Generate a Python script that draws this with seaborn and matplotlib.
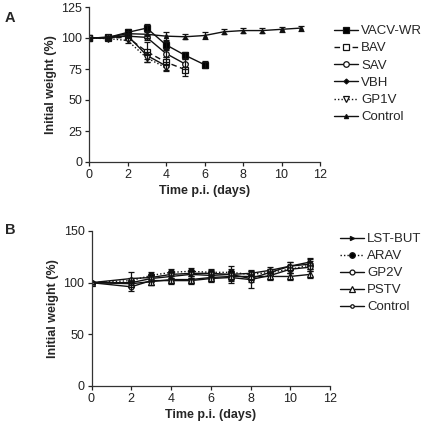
import matplotlib
matplotlib.use("Agg")
import matplotlib.pyplot as plt
import seaborn as sns
import pandas as pd
import numpy as np

# ---------------- Panel A data ----------------
a_names = ["VACV-WR", "BAV", "SAV", "VBH", "GP1V", "Control"]
a_days = {
    "VACV-WR": [0, 1, 2, 3, 4, 5, 6],
    "BAV": [0, 1, 2, 3, 4, 5],
    "SAV": [0, 1, 2, 3, 4, 5],
    "VBH": [0, 1, 2, 3, 4],
    "GP1V": [0, 1, 2, 3, 4],
    "Control": [0, 1, 2, 3, 4, 5, 6, 7, 8, 9, 10, 11],
}
a_vals = {
    "VACV-WR": [100, 100.5, 104.5, 108, 94.5, 86, 78.5],
    "BAV": [100, 100, 100.5, 89, 80.5, 74.5],
    "SAV": [100, 100.5, 101.5, 100.5, 87.5, 79],
    "VBH": [100, 100, 102, 86, 77.5],
    "GP1V": [100, 99.5, 98, 84, 76],
    "Control": [100, 100.5, 103.5, 103, 101.5, 101, 102, 105, 106, 106, 107, 108],
}
a_err = {
    "VACV-WR": [1, 1, 3, 3, 3, 3, 3],
    "BAV": [1, 1, 2, 8, 4, 5],
    "SAV": [1, 1, 2, 2, 3, 4],
    "VBH": [1, 1, 2, 3, 3],
    "GP1V": [1, 1, 2, 3, 3],
    "Control": [1, 1, 2, 3, 3, 2, 3, 2, 2, 2, 2, 2],
}

# ---------------- Panel B data ----------------
b_names = ["LST-BUT", "ARAV", "GP2V", "PSTV", "Control"]
b_days = [0, 2, 3, 4, 5, 6, 7, 8, 9, 10, 11]
b_vals = {
    "LST-BUT": [100, 100, 104, 106, 108, 107, 108, 104, 110, 116, 120],
    "ARAV": [100, 102, 107, 110, 111, 110, 110, 108, 110, 113, 117],
    "GP2V": [100, 96, 102, 102, 102, 104, 105, 103, 107, 113, 115],
    "PSTV": [100, 99, 101, 103, 103, 105, 106, 106, 106, 106, 108],
    "Control": [100, 104, 105, 108, 109, 109, 108, 109, 112, 116, 118],
}
b_err = {
    "LST-BUT": [1, 3, 3, 3, 3, 3, 3, 3, 3, 4, 4],
    "ARAV": [1, 3, 3, 3, 3, 3, 3, 3, 3, 4, 4],
    "GP2V": [1, 4, 4, 3, 3, 3, 3, 8, 3, 4, 4],
    "PSTV": [1, 3, 3, 3, 3, 3, 3, 3, 3, 3, 3],
    "Control": [1, 6, 3, 3, 3, 3, 8, 3, 3, 4, 5],
}

a_style = {
    "VACV-WR": dict(marker="s", ls="-", mfc="black", ms=4.5),
    "BAV": dict(marker="s", ls=(0, (4, 2.5)), mfc="white", ms=4.5),
    "SAV": dict(marker="o", ls="-", mfc="white", ms=4),
    "VBH": dict(marker="D", ls="-", mfc="black", ms=2.5),
    "GP1V": dict(marker="v", ls=(0, (1, 1.5)), mfc="white", ms=4),
    "Control": dict(marker="^", ls="-", mfc="black", ms=3),
}
b_style = {
    "LST-BUT": dict(marker=">", ls="-", mfc="black", ms=3),
    "ARAV": dict(marker="o", ls=(0, (1, 1.5)), mfc="black", ms=4),
    "GP2V": dict(marker="o", ls="-", mfc="white", ms=3.5),
    "PSTV": dict(marker="^", ls="-", mfc="white", ms=4),
    "Control": dict(marker="o", ls="-", mfc="white", ms=2.5),
}

sns.set_style("ticks")
plt.rcParams["font.family"] = ["Liberation Sans", "DejaVu Sans"]

fig = plt.figure(figsize=(4.26, 4.24), dpi=100)
W, H = 426, 424
axA = fig.add_axes([89 / W, 1 - 162 / H, 231 / W, 155 / H])
axB = fig.add_axes([91.5 / W, 1 - 386 / H, 238.5 / W, 155 / H])

LC = "#111111"


def draw(ax, names, days_map, vals, errs, styles):
    for n in names:
        d = days_map[n] if isinstance(days_map, dict) else days_map
        df = pd.DataFrame({"day": d, "w": vals[n]})
        st = styles[n]
        sns.lineplot(data=df, x="day", y="w", ax=ax, color=LC, lw=1.0,
                     linestyle=st["ls"], marker=st["marker"],
                     markerfacecolor=st["mfc"], markeredgecolor=LC,
                     markersize=st["ms"], markeredgewidth=0.9, label=n,
                     legend=False)
        ax.errorbar(d, vals[n], yerr=errs[n], fmt="none", ecolor=LC,
                    elinewidth=0.9, capsize=2, capthick=0.9)


draw(axA, a_names, a_days, a_vals, a_err, a_style)
draw(axB, b_names, b_days, b_vals, b_err, b_style)

for ax in (axA, axB):
    ax.set_xlim(0, 12)
    ax.set_xticks(range(0, 13, 2))
    sns.despine(ax=ax)
    ax.tick_params(labelsize=9, length=3, width=0.9, pad=2, colors="#222222")
    for s in ("left", "bottom"):
        ax.spines[s].set_linewidth(0.9)
        ax.spines[s].set_color("#333333")
    ax.set_xlabel("Time p.i. (days)", fontsize=9, fontweight="bold", labelpad=3)
    ax.set_ylabel("Initial weight (%)", fontsize=9, fontweight="bold", labelpad=3)

axA.set_ylim(0, 125)
axA.set_yticks(range(0, 126, 25))
axB.set_ylim(0, 150)
axB.set_yticks([0, 50, 100, 150])

axA.legend(loc="upper left", bbox_to_anchor=(334 / W, 1 - 25 / H),
           bbox_transform=fig.transFigure, frameon=False, fontsize=9.5,
           handlelength=1.8, handletextpad=0.25, labelspacing=0.38,
           borderaxespad=0, borderpad=0)
axB.legend(loc="upper left", bbox_to_anchor=(340 / W, 1 - 233 / H),
           bbox_transform=fig.transFigure, frameon=False, fontsize=9.5,
           handlelength=1.8, handletextpad=0.25, labelspacing=0.36,
           borderaxespad=0, borderpad=0)

fig.text(5 / W, 1 - 18 / H, "A", fontsize=10.5, fontweight="bold", va="center")
fig.text(5 / W, 1 - 230 / H, "B", fontsize=10.5, fontweight="bold", va="center")

fig.savefig("out.png", dpi=100)
